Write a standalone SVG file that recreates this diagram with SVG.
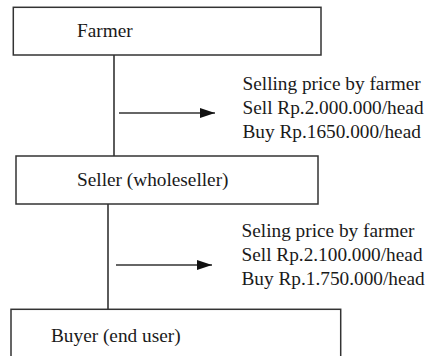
<svg xmlns="http://www.w3.org/2000/svg" width="430" height="356" viewBox="0 0 430 356">
<defs>
<style>
.box{fill:#fff;stroke:#333;stroke-width:1.5}
.t{font-family:"Liberation Serif","Times New Roman",serif;font-size:19.3px;fill:#1a1a1a}
.ln{stroke:#333;stroke-width:1.6;fill:none}
</style>
<marker id="ah" viewBox="0 0 15 10" refX="15" refY="5" markerWidth="15" markerHeight="10" markerUnits="userSpaceOnUse" orient="auto">
<path d="M0,0 L15,5 L0,10 Z" fill="#111"/>
</marker>
</defs>
<rect width="430" height="356" fill="#fff"/>
<g id="connectors">
<line class="ln" x1="114" y1="55" x2="114" y2="160"/>
<line class="ln" x1="108" y1="204" x2="108" y2="315"/>
<line class="ln" x1="119" y1="113" x2="215" y2="113" marker-end="url(#ah)"/>
<line class="ln" x1="116" y1="265" x2="212" y2="265" marker-end="url(#ah)"/>
</g>
<g id="farmer">
<rect class="box" x="13.3" y="7.3" width="307.7" height="47.7"/>
<text class="t" x="77" y="37">Farmer</text>
</g>
<g id="seller">
<rect class="box" x="16" y="156" width="302" height="48"/>
<text class="t" x="77" y="186">Seller (wholeseller)</text>
</g>
<g id="buyer">
<rect class="box" x="11" y="309.3" width="329.7" height="60"/>
<text class="t" x="51" y="341.5">Buyer (end user)</text>
</g>
<g id="label1">
<text class="t" x="242.5" y="90">Selling price by farmer</text>
<text class="t" x="242.5" y="114">Sell Rp.2.000.000/head</text>
<text class="t" x="242.5" y="137.5">Buy Rp.1650.000/head</text>
</g>
<g id="label2">
<text class="t" x="241.5" y="237">Seling price by farmer</text>
<text class="t" x="241.5" y="261">Sell Rp.2.100.000/head</text>
<text class="t" x="241.5" y="285">Buy Rp.1.750.000/head</text>
</g>
</svg>
